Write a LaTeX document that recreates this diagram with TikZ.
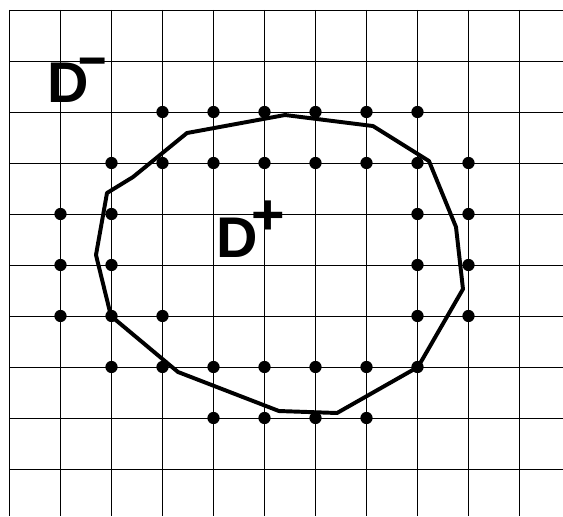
\documentclass[tikz,border=0pt]{standalone}
\usepackage{fontspec}
\setmainfont{Liberation Sans}
\usepackage{tikz}
\usetikzlibrary{positioning}

\begin{document}
\begin{tikzpicture}[
    gridline/.style={line width=0.5pt, black},
    latticept/.style={fill=black},
    boundary/.style={line width=2.2pt, line join=round},
    setlabel/.style={inner sep=0pt, font=\fontsize{32}{36}\selectfont\bfseries},
    signlabel/.style={inner sep=0pt, font=\fontsize{32}{36}\selectfont\bfseries}
]
    \useasboundingbox (-0.186,0.196) rectangle (10.853,-9.922);
    \clip (-0.186,0.196) rectangle (10.853,-9.922);

    % Grid
    \foreach \i in {0,...,10}
        \draw[gridline] (\i,0) -- (\i,-9.922);
    \foreach \j in {0,...,9}
        \draw[gridline] (0,-\j) -- (10.853,-\j);

    % Lattice points near the boundary
    \foreach \j/\row in {2/{3,4,5,6,7,8}, 3/{2,3,4,5,6,7,8,9}, 4/{1,2,8,9},
                         5/{1,2,8,9}, 6/{1,2,3,8,9}, 7/{2,3,4,5,6,7,8}, 8/{4,5,6,7}}
        \foreach \i in \row
            \fill[latticept] (\i,-\j) circle (0.12);

    % Boundary of the region
    \draw[boundary] (3.480,-2.412) -- (5.402,-2.059) -- (7.127,-2.275) -- (8.225,-2.961)
        -- (8.755,-4.255) -- (8.892,-5.471) -- (8.010,-7.000) -- (6.422,-7.902)
        -- (5.284,-7.863) -- (3.304,-7.098) -- (1.990,-6.000) -- (1.696,-4.804)
        -- (1.912,-3.588) -- (2.422,-3.275) -- cycle;

    % Labels
    \node[setlabel] (dout) at (1.157,-1.422) {D};
    \node[signlabel, xscale=1.7, yscale=0.9] (doutsign) at (1.63,-1.10) {-};
    \node[setlabel] (din) at (4.471,-4.471) {D};
    \node[signlabel] (dinsign) at (5.069,-4.069) {+};
\end{tikzpicture}
\end{document}
